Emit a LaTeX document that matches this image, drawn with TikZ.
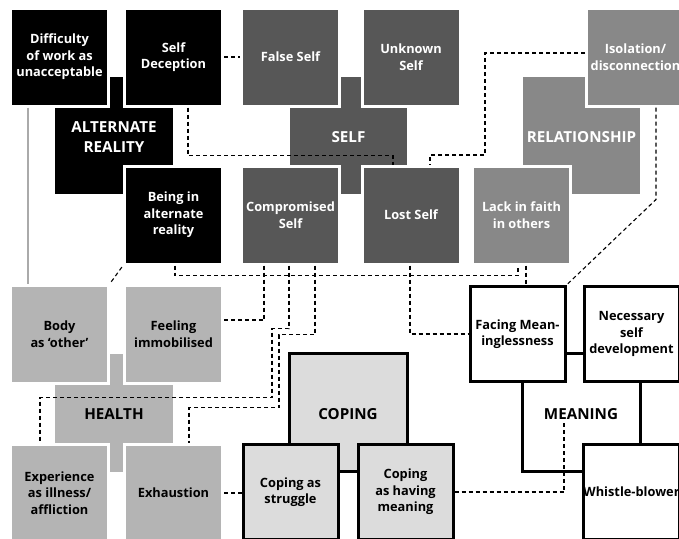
\documentclass[tikz,border=0pt]{standalone}
\usepackage{fontspec}
\setmainfont{Open Sans}
\usetikzlibrary{positioning}
\definecolor{selfgray}{HTML}{575757}
\definecolor{relgray}{HTML}{888888}
\definecolor{healthgray}{HTML}{B4B4B4}
\definecolor{copegray}{HTML}{DCDCDC}
\definecolor{linegray}{HTML}{AAAAAA}
\newcommand\boxfont{\bfseries\fontsize{12.8}{16.5}\selectfont}
\newcommand\catfont{\bfseries\fontsize{15.2}{20}\selectfont}
\begin{document}
\begin{tikzpicture}[x=1pt,y=-1pt,
	box/.style={minimum width=98pt,minimum height=98pt,inner sep=0pt,draw=white,line width=3pt,align=center,font=\boxfont},
	dark/.style={box,fill=black,text=white},
	mid/.style={box,fill=selfgray,text=white},
	rel/.style={box,fill=relgray,text=white},
	light/.style={box,fill=healthgray,text=black},
	copebox/.style={box,draw=black,fill=copegray,minimum width=95pt,minimum height=95pt},
	meanbox/.style={copebox,fill=white},
	cat/.style={font=\catfont,align=center,inner sep=0pt},
	link/.style={dash pattern=on 4pt off 3pt,line width=1.1pt}]
	\useasboundingbox (0,0) rectangle (679,538);
	\clip (0,0) rectangle (679,538);
	% alternate reality
	\fill (55,107) rectangle (173,194);
	\fill (110,77) rectangle (123,107);
	\node[cat,text=white] (alt) at (114,137) {ALTERNATE\\REALITY};
	\node[dark] (difficulty) at (59.5,57) {Difficulty\\of work as\\unacceptable};
	\node[dark] (selfdec) at (173.5,57) {Self\\Deception};
	\node[dark] (beingalt) at (173.5,215) {Being in\\alternate\\reality};
	% self
	\fill[selfgray] (290,107) rectangle (407,170);
	\fill[selfgray] (341,77) rectangle (361,194);
	\node[cat,text=white] (self) at (348.5,137) {SELF};
	\node[mid] (falseself) at (290.5,57) {False Self};
	\node[mid] (unknown) at (411,57) {Unknown\\Self};
	\node[mid] (compself) at (290.5,215) {Compromised\\Self};
	\node[mid] (lostself) at (411,215) {Lost Self};
	% relationship
	\fill[relgray] (523,77) rectangle (640,194);
	\node[cat,text=white] (rel) at (581.5,137) {RELATIONSHIP};
	\node[rel] (isolation) at (635.5,57) {Isolation/\\disconnection};
	\node[rel] (lackfaith) at (521.5,215) {Lack in faith\\in others};
	% health
	\fill[healthgray] (55,380) rectangle (173,446);
	\fill[healthgray] (110,354) rectangle (123,472);
	\node[cat] (health) at (114,414) {HEALTH};
	\node[light] (body) at (59.5,334) {Body\\as ‘other’};
	\node[light] (immob) at (173.5,334) {Feeling\\immobilised};
	\node[light] (illness) at (59.5,493) {Experience\\as illness/\\affliction};
	\node[light] (exhaust) at (173.5,493) {Exhaustion};
	% coping
	\draw[line width=3pt,fill=copegray] (289.5,353.5) rectangle (407.5,471.5);
	\node[cat] (coping) at (348,414) {COPING};
	\node[copebox] (struggle) at (290.5,492) {Coping as\\struggle};
	\node[copebox] (havemean) at (405.5,492) {Coping\\as having\\meaning};
	% meaning
	\draw[line width=3pt,fill=white] (522.5,353.5) rectangle (640.5,471.5);
	\node[cat] (meaning) at (581,414) {MEANING};
	\node[meanbox] (facing) at (517.5,334) {Facing Mean-\\inglessness};
	\node[meanbox] (necessary) at (631.5,334) {Necessary\\self\\development};
	\node[meanbox] (whistle) at (631.5,492) {Whistle-blower};
	% links
	\draw[line width=2pt,linegray] ([xshift=-31.5]difficulty.south) -- ([xshift=-31.5]body.north);
	\draw[link] (selfdec) -- (falseself);
	\draw[link] ([xshift=14.5]selfdec.south) -- ++(0,48) -| ([xshift=-18]lostself.north);
	\draw[link] ([yshift=4]isolation.west) -- ++(-100,0) -- ++(0,102) -| ([xshift=19]lostself.north);
	\draw[link] ([xshift=20.5]isolation.south) -- ++(0,92) -- (facing.north east);
	\draw[link] ([xshift=1.5]beingalt.south) -- ++(0,10) -| ([xshift=-3.5]lackfaith.south);
	\draw[link] ([xshift=-1]lostself.south) |- (facing.west);
	\draw[link] ([xshift=4.5]lackfaith.south) -- ([xshift=8.5]facing.north);
	\draw[link] ([xshift=-26.5]compself.south) |- ([yshift=14]immob.east);
	\draw[link] ([xshift=-1.5]compself.south) -- ++(0,63) -- ++(-17,0) -- ++(0,69) -| ([xshift=-19.5]illness.north);
	\draw[link] ([xshift=24.5]compself.south) -- ++(0,69) -- ++(-36,0) -- ++(0,73) -| ([xshift=15.5]exhaust.north);
	\draw[link,shorten <=2pt,shorten >=2pt] (beingalt.south west) -- (body.north east);
	\draw[link] (exhaust.east) -- (exhaust.east -| struggle.west);
	\draw[link] (havemean.east) -| ([xshift=-17]meaning.south);
\end{tikzpicture}
\end{document}
